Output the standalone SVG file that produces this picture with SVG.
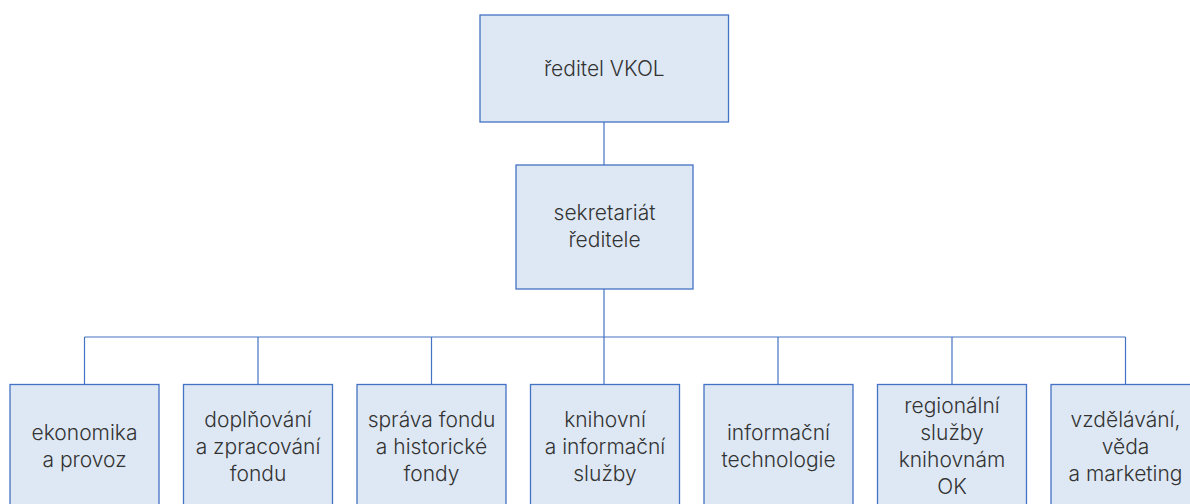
<svg xmlns="http://www.w3.org/2000/svg" width="1190" height="504" viewBox="0 0 1190 504">
<style>
.box{fill:#dde8f4;stroke:#4472c4;stroke-width:1.3}
.t{font-family:Inter,"Liberation Sans",sans-serif;font-size:21px;font-weight:300;fill:#333333;text-anchor:middle}
.c{stroke:#4472c4;stroke-width:1.2;fill:none}
</style>
<rect width="1190" height="504" fill="#ffffff"/>
<g id="connectors">
<line class="c" x1="604" y1="122" x2="604" y2="165"/>
<line class="c" x1="604" y1="289" x2="604" y2="384.5"/>
<line class="c" x1="84.5" y1="337" x2="1125.5" y2="337"/>
<line class="c" x1="84.5" y1="337" x2="84.5" y2="384.5"/>
<line class="c" x1="258" y1="337" x2="258" y2="384.5"/>
<line class="c" x1="431.5" y1="337" x2="431.5" y2="384.5"/>
<line class="c" x1="778" y1="337" x2="778" y2="384.5"/>
<line class="c" x1="952" y1="337" x2="952" y2="384.5"/>
<line class="c" x1="1125.5" y1="337" x2="1125.5" y2="384.5"/>
</g>
<g id="n-reditel">
<rect class="box" x="480" y="15" width="248.5" height="107"/>
<text class="t" x="604.3" y="76">ředitel VKOL</text>
</g>
<g id="n-sekretariat">
<rect class="box" x="516" y="165" width="177" height="124"/>
<text class="t" x="604.5" y="220">sekretariát</text>
<text class="t" x="604.5" y="247">ředitele</text>
</g>
<g id="n-ekonomika">
<rect class="box" x="10" y="384.5" width="149" height="130"/>
<text class="t" x="84.5" y="440">ekonomika</text>
<text class="t" x="84.5" y="467">a provoz</text>
</g>
<g id="n-doplnovani">
<rect class="box" x="183.5" y="384.5" width="149" height="130"/>
<text class="t" x="258" y="427">doplňování</text>
<text class="t" x="258" y="454">a zpracování</text>
<text class="t" x="258" y="481">fondu</text>
</g>
<g id="n-sprava">
<rect class="box" x="357" y="384.5" width="149" height="130"/>
<text class="t" x="431.5" y="427">správa fondu</text>
<text class="t" x="431.5" y="454">a historické</text>
<text class="t" x="431.5" y="481">fondy</text>
</g>
<g id="n-knihovni">
<rect class="box" x="530.5" y="384.5" width="149" height="130"/>
<text class="t" x="605" y="427">knihovní</text>
<text class="t" x="605" y="454">a informační</text>
<text class="t" x="605" y="481">služby</text>
</g>
<g id="n-it">
<rect class="box" x="704" y="384.5" width="149" height="130"/>
<text class="t" x="778.5" y="440">informační</text>
<text class="t" x="778.5" y="467">technologie</text>
</g>
<g id="n-regionalni">
<rect class="box" x="877.5" y="384.5" width="149" height="130"/>
<text class="t" x="952" y="413">regionální</text>
<text class="t" x="952" y="440">služby</text>
<text class="t" x="952" y="467">knihovnám</text>
<text class="t" x="952" y="494">OK</text>
</g>
<g id="n-vzdelavani">
<rect class="box" x="1051" y="384.5" width="149" height="130"/>
<text class="t" x="1125.5" y="427">vzdělávání,</text>
<text class="t" x="1125.5" y="454">věda</text>
<text class="t" x="1125.5" y="481">a marketing</text>
</g>
</svg>
